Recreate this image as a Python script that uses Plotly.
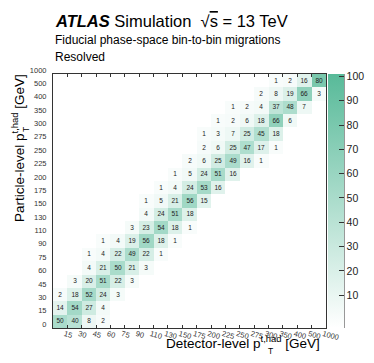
import numpy as np
import plotly.graph_objects as go

# ── Datos ─────────────────────────────────────────────────────────────────────
BIN_EDGES = ["0", "15", "30", "45", "60", "75", "90", "110", "130", "150", "175",
             "200", "225", "250", "275", "300", "350", "400", "500", "1000"]

# fila = bin particle-level (de abajo a arriba): (primera columna detector, valores)
ROW_0 = (0, [50, 40, 8, 2])
ROW_1 = (0, [14, 54, 27, 4])
ROW_2 = (0, [2, 18, 52, 24, 3])
ROW_3 = (1, [3, 20, 51, 22, 3])
ROW_4 = (2, [4, 21, 50, 21, 3])
ROW_5 = (2, [1, 4, 22, 49, 22, 1])
ROW_6 = (3, [1, 4, 19, 56, 18, 1])
ROW_7 = (5, [3, 23, 54, 18, 1])
ROW_8 = (6, [4, 24, 51, 18])
ROW_9 = (6, [1, 5, 21, 56, 15])
ROW_10 = (7, [1, 4, 24, 53, 16])
ROW_11 = (8, [1, 5, 24, 51, 16])
ROW_12 = (9, [2, 6, 25, 49, 16, 1])
ROW_13 = (10, [2, 6, 25, 47, 17, 1])
ROW_14 = (10, [1, 3, 7, 25, 45, 18])
ROW_15 = (11, [1, 2, 6, 18, 66, 6])
ROW_16 = (12, [1, 2, 4, 37, 48, 7])
ROW_17 = (14, [2, 8, 19, 66, 3])
ROW_18 = (15, [1, 2, 16, 80])

ROWS = [ROW_0, ROW_1, ROW_2, ROW_3, ROW_4, ROW_5, ROW_6, ROW_7, ROW_8, ROW_9,
        ROW_10, ROW_11, ROW_12, ROW_13, ROW_14, ROW_15, ROW_16, ROW_17, ROW_18]

COLORBAR_TICKS = [10, 20, 30, 40, 50, 60, 70, 80, 90, 100]

# ── Matriz ────────────────────────────────────────────────────────────────────
n = len(BIN_EDGES) - 1
z = [[None] * n for _ in range(n)]
txt = [[""] * n for _ in range(n)]
for r, (start, vals) in enumerate(ROWS):
    for k, v in enumerate(vals):
        z[r][start + k] = v
        txt[r][start + k] = str(v)

FONT = "Liberation Sans, Arial, sans-serif"

# geometría en píxeles
W, H = 374, 363
L, R, T, B = 45, 318, 66, 320


def px_x(p):
    return (p - L) / (R - L)


def px_y(p):
    return (B - p) / (B - T)


fig = go.Figure(go.Heatmap(
    z=z, x=list(range(n)), y=list(range(n)),
    text=txt, texttemplate="%{text}",
    textfont=dict(size=6.5, color="#222", family=FONT),
    colorscale=[[0, "#ffffff"], [1, "rgb(88,186,153)"]],
    zmin=-3.5, zmax=101, xgap=0, ygap=0,
    hoverongaps=False,
    colorbar=dict(
        x=px_x(320), xanchor="left", xpad=0, y=0.5, yanchor="middle",
        len=1, lenmode="fraction", thickness=16, ypad=0,
        outlinewidth=0, ticks="inside", ticklen=5, tickcolor="#333",
        tickvals=COLORBAR_TICKS, tickfont=dict(size=10.5, family=FONT, color="#222"),
    ),
))

edge_pos = [i - 0.5 for i in range(n + 1)]
x_text = [" "] + BIN_EDGES[1:]

fig.update_xaxes(
    range=[-0.5, n - 0.5], tickvals=edge_pos, ticktext=x_text,
    tickangle=15, ticks="inside", ticklen=3, tickcolor="#333",
    showline=True, linecolor="#333", linewidth=1, mirror="ticks",
    showgrid=False, zeroline=False, ticklabelshift=-3, ticklabelstandoff=-2,
    tickfont=dict(size=7.5, family=FONT, color="#333"),
)
fig.update_yaxes(
    range=[-0.5, n - 0.5], tickvals=edge_pos, ticktext=BIN_EDGES,
    ticks="", showline=True, linecolor="#333", linewidth=1, mirror=True,
    showgrid=False, zeroline=False, ticklabelshift=-4, ticklabelstandoff=4,
    tickfont=dict(size=7.5, family=FONT, color="#333"),
)

ann = [
    dict(x=px_x(45), y=px_y(13), xanchor="left", yanchor="middle",
         text="<b><i>ATLAS</i></b> Simulation  √<span style='text-decoration:overline'>s</span> = 13 TeV",
         font=dict(size=16.5, family=FONT, color="black")),
    dict(x=px_x(45), y=px_y(32), xanchor="left", yanchor="middle",
         text="Fiducial phase-space bin-to-bin migrations",
         font=dict(size=12, family=FONT, color="black")),
    dict(x=px_x(45), y=px_y(49), xanchor="left", yanchor="middle",
         text="Resolved", font=dict(size=12, family=FONT, color="black")),
    # título eje x
    dict(x=px_x(314), y=px_y(334), xanchor="right", yanchor="middle",
         text="Detector-level p<sup>t,had</sup> [GeV]",
         font=dict(size=13.5, family=FONT, color="black")),
    dict(x=px_x(262), y=px_y(343), xanchor="center", yanchor="middle",
         text="T", font=dict(size=8.5, family=FONT, color="black")),
    # título eje y
    dict(x=px_x(10), y=px_y(64), xanchor="center", yanchor="top", textangle=-90,
         text="Particle-level p<sup>t,had</sup> [GeV]",
         font=dict(size=13.5, family=FONT, color="black")),
    dict(x=px_x(18), y=px_y(122), xanchor="center", yanchor="middle", textangle=-90,
         text="T", font=dict(size=8.5, family=FONT, color="black")),
]
for a in ann:
    a.update(xref="paper", yref="paper", showarrow=False)

fig.update_layout(
    width=W, height=H,
    margin=dict(l=L, r=W - R, t=T, b=H - B),
    paper_bgcolor="white", plot_bgcolor="white",
    annotations=ann,
    shapes=[dict(type="line", xref="paper", yref="paper",
                 x0=px_x(336), x1=px_x(336), y0=0, y1=1,
                 line=dict(color="#333", width=1))],
    font=dict(family=FONT),
)

fig.write_html("out.html")
